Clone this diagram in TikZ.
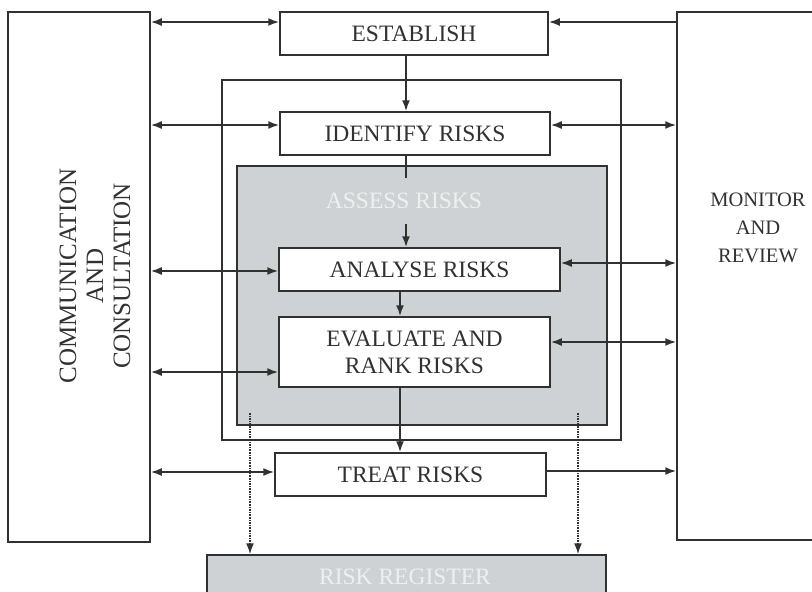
\documentclass[tikz,border=0pt]{standalone}
\usepackage{fontspec}
\setmainfont{Liberation Serif}
\usepackage{tikz}
\usetikzlibrary{arrows.meta}
\definecolor{lineGrey}{RGB}{48,50,48}
\definecolor{assessGrey}{RGB}{207,210,212}
\definecolor{paleText}{RGB}{238,240,240}
\tikzstyle{stepBox}=[shape = rectangle, draw = lineGrey, line width = 1.5pt, fill = white, inner sep = 0pt, align = center, text = lineGrey, font = \fontsize{23.5}{27}\selectfont]
\tikzstyle{sideBox}=[shape = rectangle, draw = lineGrey, line width = 1.5pt, inner sep = 0pt]
\tikzstyle{greyBox}=[shape = rectangle, draw = lineGrey, line width = 1.5pt, fill = assessGrey, inner sep = 0pt]

\begin{document}
\begin{tikzpicture}[x = 1pt, y = -1pt]
\tikzstyle{link}=[lineGrey, line width = 1.8pt, -{Latex[length = 11pt, width = 8pt]}]
\tikzstyle{twoWay}=[lineGrey, line width = 1.8pt, {Latex[length = 11pt, width = 8pt]}-{Latex[length = 11pt, width = 8pt]}]
\tikzstyle{dotLink}=[lineGrey, line width = 1.6pt, densely dotted, -{Latex[length = 11pt, width = 8pt]}]
\tikzstyle{sideText}=[align = center, text = lineGrey, inner sep = 0pt]
\tikzstyle{paleLabel}=[align = center, text = paleText, inner sep = 0pt, font = \fontsize{23.5}{27}\selectfont]
\useasboundingbox (0, 0) rectangle (812, 592);
\clip (0, 0) rectangle (812, 592);
% side boxes
\node[sideBox, minimum width = 142pt, minimum height = 530pt] (comm) at (79, 277) {};
\node[sideText, rotate = 90, font = \fontsize{25}{27}\selectfont] (commText) at (95, 276) {COMMUNICATION\\AND\\CONSULTATION};
\node[sideBox, minimum width = 139pt, minimum height = 528pt] (mon) at (746.5, 276) {};
\node[sideText, font = \fontsize{20.5}{28}\selectfont] (monText) at (758, 228) {MONITOR\\AND\\REVIEW};
% frames
\node[sideBox, minimum width = 399pt, minimum height = 360pt] (frame) at (421.5, 260) {};
\node[greyBox, minimum width = 370pt, minimum height = 259pt] (assess) at (422, 295.5) {};
\node[greyBox, minimum width = 399pt, minimum height = 50pt] (register) at (406.5, 580) {};
\node[paleLabel] (registerText) at (405, 577) {RISK REGISTER};
% steps
\node[stepBox, minimum width = 268pt, minimum height = 43pt] (establish) at (414, 33.5) {ESTABLISH};
\node[stepBox, minimum width = 270pt, minimum height = 43pt] (identify) at (415, 133.5) {IDENTIFY RISKS};
\node[stepBox, minimum width = 281pt, minimum height = 43pt] (analyse) at (419.5, 269.5) {ANALYSE RISKS};
\node[stepBox, minimum width = 271pt, minimum height = 70pt] (evaluate) at (414.5, 352) {EVALUATE AND\\RANK RISKS};
\node[stepBox, minimum width = 271pt, minimum height = 43pt] (treat) at (410.5, 474.5) {TREAT RISKS};
\coordinate (upper) at (406, 0);
\coordinate (lower) at (400, 0);
\coordinate (dotL) at (250, 413);
\coordinate (dotR) at (578, 413);
% down the middle
\draw[link] (establish.south -| upper) -- (identify.north -| upper);
\draw[link] (identify.south -| upper) -- (analyse.north -| upper);
\draw[link] (analyse.south -| lower) -- (evaluate.north -| lower);
\draw[link] (evaluate.south -| lower) -- (treat.north -| lower);
\node[paleLabel, fill = assessGrey, minimum height = 46pt, inner xsep = 3pt] (assessText) at (404, 201) {ASSESS RISKS};
% left side
\draw[twoWay] (comm.east |- 0, 22) -- (establish.west |- 0, 22);
\draw[twoWay] (comm.east |- 0, 125) -- (identify.west |- 0, 125);
\draw[twoWay] (comm.east |- 0, 271) -- (analyse.west |- 0, 271);
\draw[twoWay] (comm.east |- 0, 372) -- (evaluate.west |- 0, 372);
\draw[twoWay] (comm.east |- 0, 472) -- (treat.west |- 0, 472);
% right side
\draw[link] (mon.west |- 0, 22) -- (establish.east |- 0, 22);
\draw[twoWay] (identify.east |- 0, 125) -- (mon.west |- 0, 125);
\draw[twoWay] (analyse.east |- 0, 263) -- (mon.west |- 0, 263);
\draw[twoWay] (evaluate.east |- 0, 342) -- (mon.west |- 0, 342);
\draw[link] (treat.east |- 0, 471) -- (mon.west |- 0, 471);
% register
\draw[dotLink] (dotL) -- (register.north -| dotL);
\draw[dotLink] (dotR) -- (register.north -| dotR);
\end{tikzpicture}
\end{document}
